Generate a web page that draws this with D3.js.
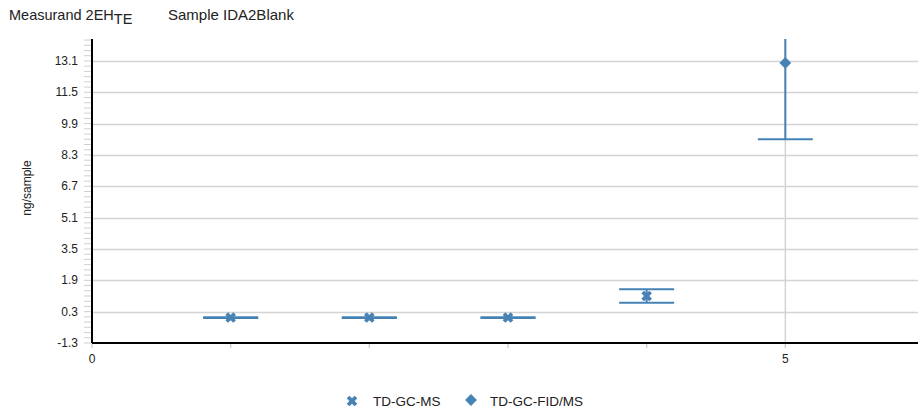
<!DOCTYPE html>
<html><head><meta charset="utf-8">
<script src="https://cdn.jsdelivr.net/npm/d3@7"></script>
<style>body{margin:0;background:#fff;font-family:"Liberation Sans",Arial,sans-serif}</style>
</head><body><svg id="c" width="918" height="412"></svg>
<script>
const seriesNames = ["TD-GC-MS", "TD-GC-FID/MS"];
const msX = [1, 2, 3, 4];
const msVal = [0.0, 0.0, 0.0, 1.1];
const msErr = [0.02, 0.02, 0.02, 0.34];
const fidX = [5];
const fidVal = [13.0];
const fidErr = [3.9];
const yTicks = [-1.3, 0.3, 1.9, 3.5, 5.1, 6.7, 8.3, 9.9, 11.5, 13.1];
const xTickLabels = [0, 5];
const xMinorTicks = [1, 2, 3, 4];

(function () {
const color = "#4682b4";
const svg = d3.select("#c");
const pL = 92, pR = 924, pT = 39, pB = 343;
const x = d3.scaleLinear().domain([0, 6]).range([pL, pR]);
const y = d3.scaleLinear().domain([-1.3, 14.22]).range([pB, pT]);

// minor y ticks
const minor = [];
for (let i = 0; i < yTicks.length; i++) {
  for (let k = 0; k < 6; k++) {
    const v = yTicks[i] + k * 1.6 / 6;
    if (y(v) >= pT) minor.push(v);
  }
}
svg.append("g").selectAll("line").data(minor).join("line")
  .attr("x1", pL - 8).attr("x2", pL).attr("y1", d => y(d)).attr("y2", d => y(d))
  .attr("stroke", "#d0d0d0").attr("stroke-width", 1);

// horizontal grid
svg.append("g").selectAll("line").data(yTicks.slice(1)).join("line")
  .attr("x1", pL).attr("x2", 918).attr("y1", d => Math.round(y(d)) + 0.5).attr("y2", d => Math.round(y(d)) + 0.5)
  .attr("stroke", "#d3d3d3").attr("stroke-width", 1.5);
// vertical grid at 5
svg.append("line").attr("x1", x(5)).attr("x2", x(5)).attr("y1", pT).attr("y2", pB + 5)
  .attr("stroke", "#d3d3d3").attr("stroke-width", 1.5);
// x minor ticks
svg.append("g").selectAll("line").data(xMinorTicks.concat([0])).join("line")
  .attr("x1", d => x(d)).attr("x2", d => x(d)).attr("y1", pB).attr("y2", pB + 5)
  .attr("stroke", "#d3d3d3").attr("stroke-width", 1.5);

// y tick labels
svg.append("g").selectAll("text").data(yTicks).join("text")
  .attr("x", pL - 14).attr("y", d => y(d) + 4).attr("text-anchor", "end")
  .attr("font-size", 12).attr("fill", "#222").text(d => d.toFixed(1));
// x tick labels
svg.append("g").selectAll("text").data(xTickLabels).join("text")
  .attr("x", d => x(d)).attr("y", pB + 20).attr("text-anchor", "middle")
  .attr("font-size", 12).attr("fill", "#222").text(d => d);

// axes lines
svg.append("line").attr("x1", pL).attr("x2", 918).attr("y1", pB).attr("y2", pB)
  .attr("stroke", "#000").attr("stroke-width", 2);
svg.append("line").attr("x1", pL).attr("x2", pL).attr("y1", pT).attr("y2", pB)
  .attr("stroke", "#000").attr("stroke-width", 2);

// plot area clip
svg.append("defs").append("clipPath").attr("id", "clip").append("rect")
  .attr("x", pL).attr("y", pT).attr("width", 918 - pL).attr("height", pB - pT);
const plot = svg.append("g").attr("clip-path", "url(#clip)");

const capW = 27.5;
function errorBars(xs, vals, errs) {
  xs.forEach((xv, i) => {
    const cx = x(xv), lo = y(vals[i] - errs[i]), hi = y(vals[i] + errs[i]);
    plot.append("line").attr("x1", cx).attr("x2", cx).attr("y1", lo).attr("y2", hi)
      .attr("stroke", color).attr("stroke-width", 2);
    [lo, hi].forEach(yy => plot.append("line").attr("x1", cx - capW).attr("x2", cx + capW)
      .attr("y1", yy).attr("y2", yy).attr("stroke", color).attr("stroke-width", 2));
  });
}
errorBars(msX, msVal, msErr);
errorBars(fidX, fidVal, fidErr);

const crossPath = d3.symbol().type(d3.symbolCross).size(70)();
plot.selectAll("path.ms").data(msX).join("path").attr("class", "ms")
  .attr("d", crossPath)
  .attr("transform", (d, i) => `translate(${x(d)},${y(msVal[i])}) rotate(45)`)
  .attr("fill", color);
const diamondPath = d3.symbol().type(d3.symbolSquare).size(70)();
plot.selectAll("path.fid").data(fidX).join("path").attr("class", "fid")
  .attr("d", diamondPath)
  .attr("transform", (d, i) => `translate(${x(d)},${y(fidVal[i])}) rotate(45)`)
  .attr("fill", color);

// y label
svg.append("text").attr("transform", "translate(31,188) rotate(-90)")
  .attr("text-anchor", "middle").attr("font-size", 12).attr("fill", "#222").text("ng/sample");

// title
const t = svg.append("text").attr("x", 9).attr("y", 20).attr("font-size", 14.5).attr("fill", "#222");
t.append("tspan").text("Measurand 2EH");
t.append("tspan").attr("dy", 4).text("TE");
svg.append("text").attr("x", 168).attr("y", 20).attr("font-size", 15).attr("fill", "#222").text("Sample IDA2Blank");

// legend
const legX = [352, 471];
const legTextX = [373, 490];
svg.append("path").attr("d", crossPath).attr("transform", `translate(${legX[0]},401) rotate(45)`).attr("fill", color);
svg.append("path").attr("d", diamondPath).attr("transform", `translate(${legX[1]},400) rotate(45)`).attr("fill", color);
svg.append("g").selectAll("text").data(seriesNames).join("text")
  .attr("x", (d, i) => legTextX[i]).attr("y", 406).attr("font-size", 13.5).attr("fill", "#222").text(d => d);
})();
</script></body></html>
